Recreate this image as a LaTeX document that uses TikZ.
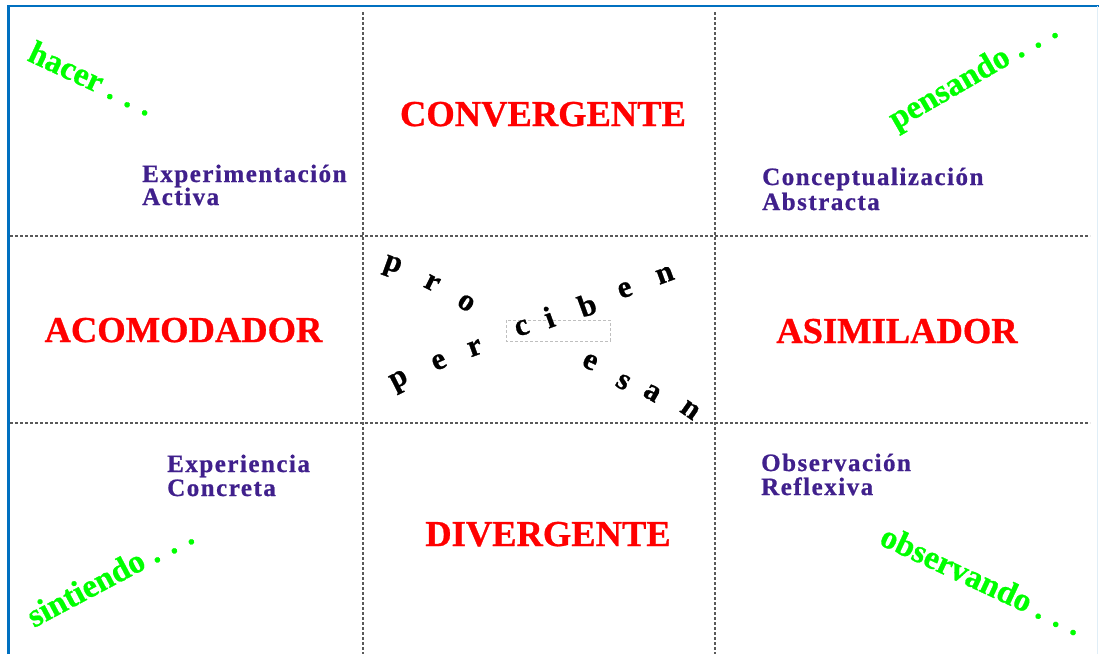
\documentclass[tikz,border=0pt]{standalone}
\usepackage{fontspec}
\setmainfont{Liberation Serif}[BoldFeatures={FakeBold=0.8}]
\newfontfamily\ancho{Liberation Serif}[LetterSpace=6, BoldFeatures={FakeBold=0.8}]
\definecolor{marco}{RGB}{0,112,192}
\definecolor{morado}{RGB}{64,32,140}
\definecolor{verde}{RGB}{0,255,0}
\tikzset{
estilo/.style={text=red, font=\fontsize{36.5}{40}\selectfont\bfseries,
    inner sep=0pt, anchor=base},
concepto/.style={text=morado, font=\ancho\fontsize{25}{27}\selectfont\bfseries,
    inner sep=0pt, anchor=base west},
accion/.style={text=verde, font=\fontsize{33}{36}\selectfont\bfseries,
    inner sep=0pt, anchor=base west},
letra/.style={font=\fontsize{31}{33}\selectfont\bfseries, inner sep=0pt},
rejilla/.style={draw=black!65, line width=1.1pt, dash pattern=on 3pt off 2pt}
}

\begin{document}
\begin{tikzpicture}[x=1pt, y=-1pt]
\useasboundingbox (0,0) rectangle (1099,654);
% rejilla de 3x3
\draw[rejilla] (363,12) -- (363,654);
\draw[rejilla] (715,12) -- (715,654);
\draw[rejilla] (10,236) -- (1090,236);
\draw[rejilla] (10,423) -- (1090,423);
\draw[draw=black!25, line width=0.8pt, dash pattern=on 3pt off 2pt] (506,320) rectangle (610,341);
% marco
\draw[marco, line width=2.5pt] (8.5,654) -- (8.5,6) -- (1099,6);
\draw[marco!12, line width=1pt] (1097.5,6) -- (1097.5,654);

\node[estilo] (conv) at (543,126) {CONVERGENTE};
\node[estilo] (acom) at (183.5,342) {ACOMODADOR};
\node[estilo] (asim) at (897,343) {ASIMILADOR};
\node[estilo] (div) at (548,546) {DIVERGENTE};

\node[concepto] (ea) at (142,182) {Experimentación};
\node[concepto] (ea2) at ([yshift=-23pt]ea.base west) {Activa};
\node[concepto] (ca) at (762,185) {Conceptualización};
\node[concepto] (ca2) at ([yshift=-25pt]ca.base west) {Abstracta};
\node[concepto] (ec) at (167,472) {Experiencia};
\node[concepto] (ec2) at ([yshift=-24pt]ec.base west) {Concreta};
\node[concepto] (or) at (761,471) {Observación};
\node[concepto] (or2) at ([yshift=-24pt]or.base west) {Reflexiva};

\node[accion, rotate=-25] (hacer) at (26,60) {hacer . . .};
\node[accion, rotate=30] (pensando) at (896,130) {pensando . . .};
\node[accion, rotate=28] (sintiendo) at (34,628) {sintiendo . . .};
\node[accion, rotate=-25] (observando) at (878,544) {observando . . .};

% procesan / perciben
\foreach \l/\x/\y/\a [count=\i] in {p/392/267/-20, r/432/283/-27, o/466/303/-32,
    c/522/328/20, i/549/317/20, b/587/305/20, e/625/290/20, n/665/275/20,
    p/400/382/27, e/439/362/24, r/475/348/20,
    e/590/362/-25, s/623/382/-30, a/652/393/-30, n/690/410/-35}
  \node[letra, rotate=\a] (l\i) at (\x,\y) {\l};
\end{tikzpicture}
\end{document}
